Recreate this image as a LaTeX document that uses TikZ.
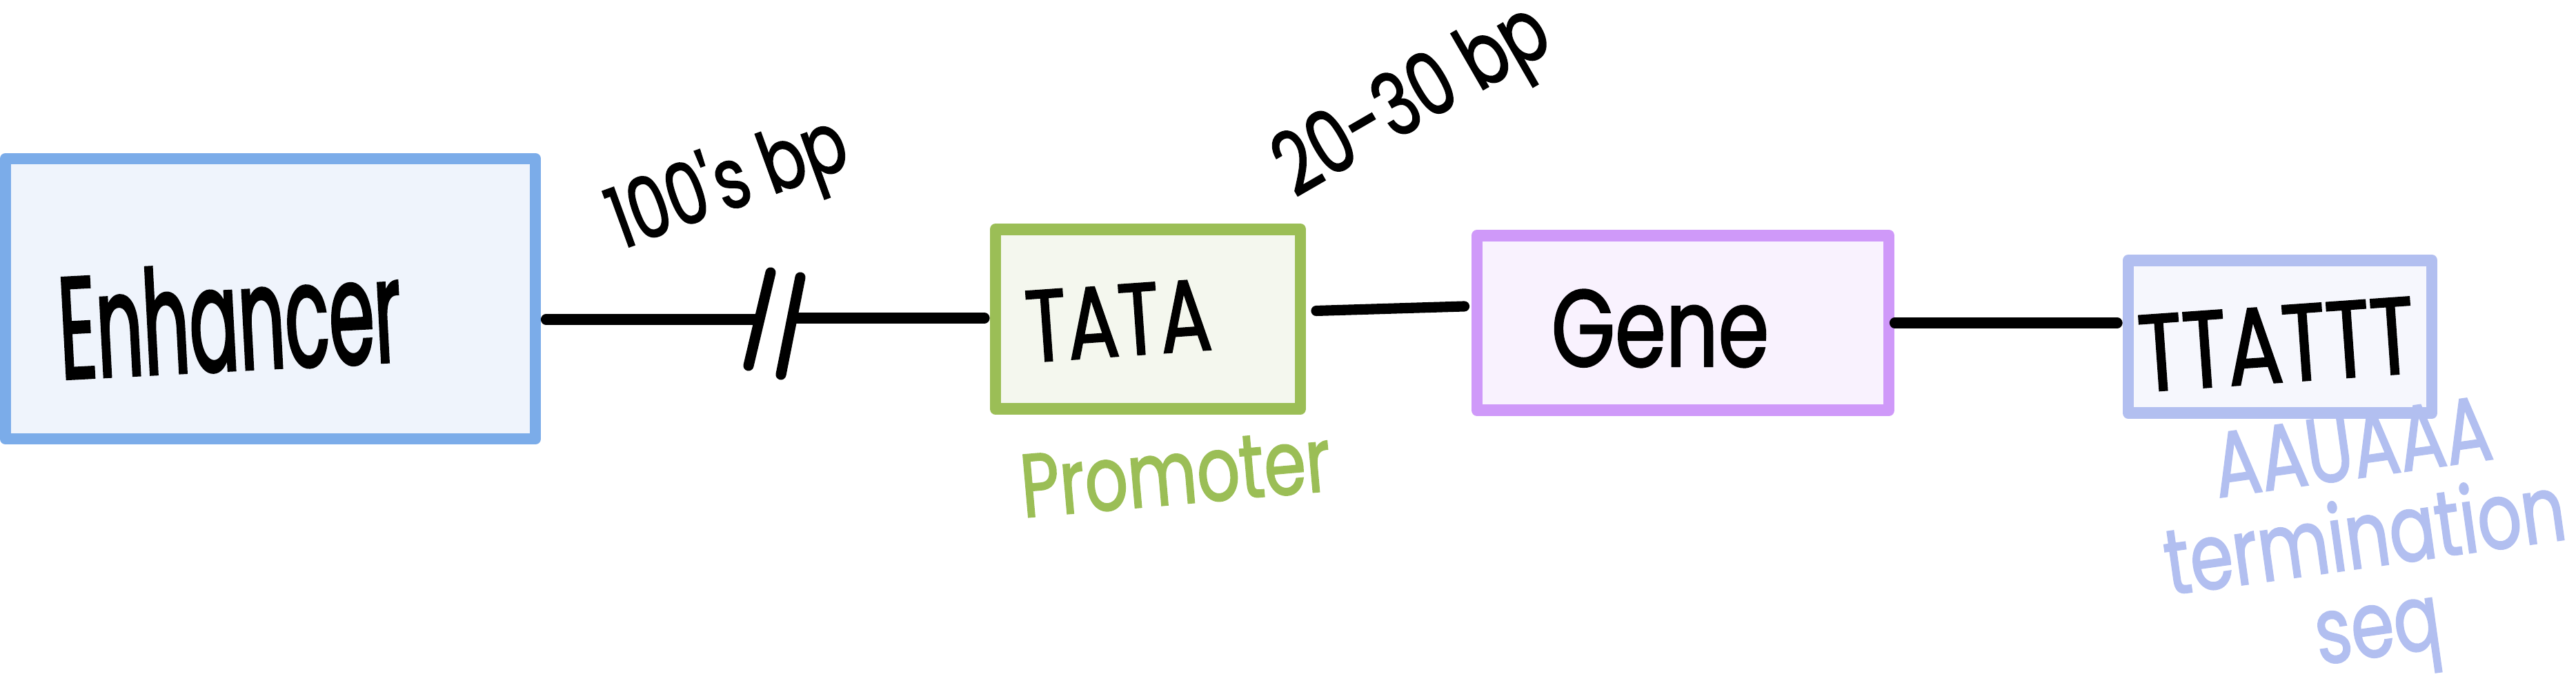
\documentclass[tikz,border=0pt]{standalone}
\usepackage{fontspec}
\newfontfamily\handfont[FakeStretch=0.5, FakeBold=1.5]{Poppins}
\newfontfamily\handwidefont[FakeStretch=0.75, FakeBold=1.5]{Poppins}
\usepackage{xcolor}
\usepackage{tikz}
\usetikzlibrary{positioning,calc}
\definecolor{enhancerline}{HTML}{7BACE9}
\definecolor{enhancerfill}{HTML}{EFF4FC}
\definecolor{promoterline}{HTML}{9BBE56}
\definecolor{promoterfill}{HTML}{F4F7EE}
\definecolor{geneline}{HTML}{CF99F9}
\definecolor{genefill}{HTML}{F9F2FE}
\definecolor{termline}{HTML}{B2BFF0}
\definecolor{termfill}{HTML}{F6F7FD}

\begin{document}
\begin{tikzpicture}[
    region/.style={
        rectangle,
        line width=4.8pt,
        line join=round,
        inner sep=0pt
    },
    wire/.style={
        line width=4.3pt,
        line cap=round,
        color=black
    },
    hand/.style={
        font=\handwidefont\fontsize{#1}{#1}\selectfont,
        inner sep=0pt,
        text=black
    },
    note/.style={
        font=\handwidefont\fontsize{38}{37}\selectfont,
        inner sep=0pt,
        align=center
    }
]
\useasboundingbox (0,0) rectangle (37.34,10);

% Boxes
\node[region, draw=enhancerline, fill=enhancerfill, minimum width=7.68cm, minimum height=4.06cm] (enhancer) at (3.92,5.67) {};
\node[region, draw=promoterline, fill=promoterfill, minimum width=4.42cm, minimum height=2.60cm] (tata) at (16.64,5.375) {};
\node[region, draw=geneline, fill=genefill, minimum width=5.97cm, minimum height=2.53cm] (gene) at (24.395,5.32) {};
\node[region, draw=termline, fill=termfill, minimum width=4.40cm, minimum height=2.21cm] (ttattt) at (33.05,5.12) {};

% Box texts
\node[hand=60, font=\handfont\fontsize{60}{60}\selectfont, rotate=3] (enhancertext) at ($(enhancer)+(-0.59,-0.27)$) {Enhancer};
\node[hand=42, rotate=4] (tatatext) at ($(tata)+(-0.43,-0.02)$) {TATA};
\node[hand=45] (genetext) at ($(gene)+(-0.33,-0.08)$) {Gene};
\node[hand=45, rotate=4] (ttattttext) at ($(ttattt)+(-0.05,-0.11)$) {TTATTT};

% Break in the enhancer link
\coordinate (cutleft) at (11.00,5.37);
\coordinate (cutright) at (11.50,5.39);

% Links
\draw[wire] ($(enhancer.east |- cutleft)+(0.07,0)$) -- (cutleft);
\draw[wire] (cutright) -- ($(tata.west |- cutright)+(-0.075,0)$);
\draw[wire] (11.17,6.05) -- (10.85,4.70);
\draw[wire] (11.60,5.98) -- (11.32,4.57);
\draw[wire] ($(tata.east)+(0.145,0.12)$) -- ($(gene.west)+(-0.10,0.24)$);
\draw[wire, shorten >=0.075cm] (gene.east) -- (gene.east -| ttattt.west);

% Distance labels
\node[hand=35, rotate=20] (farlabel) at (10.57,7.30) {100's bp};
\node[hand=36, rotate=30] (nearlabel) at (20.51,8.48) {20-30 bp};

% Region labels
\node[hand=37, rotate=5, text=promoterline] (promoterlabel) at (17.04,3.14) {Promoter};
\node[note, rotate=8, text=termline] (termlabel) at (34.30,2.07) {AAUAAA\\termination\\seq};

\end{tikzpicture}
\end{document}
